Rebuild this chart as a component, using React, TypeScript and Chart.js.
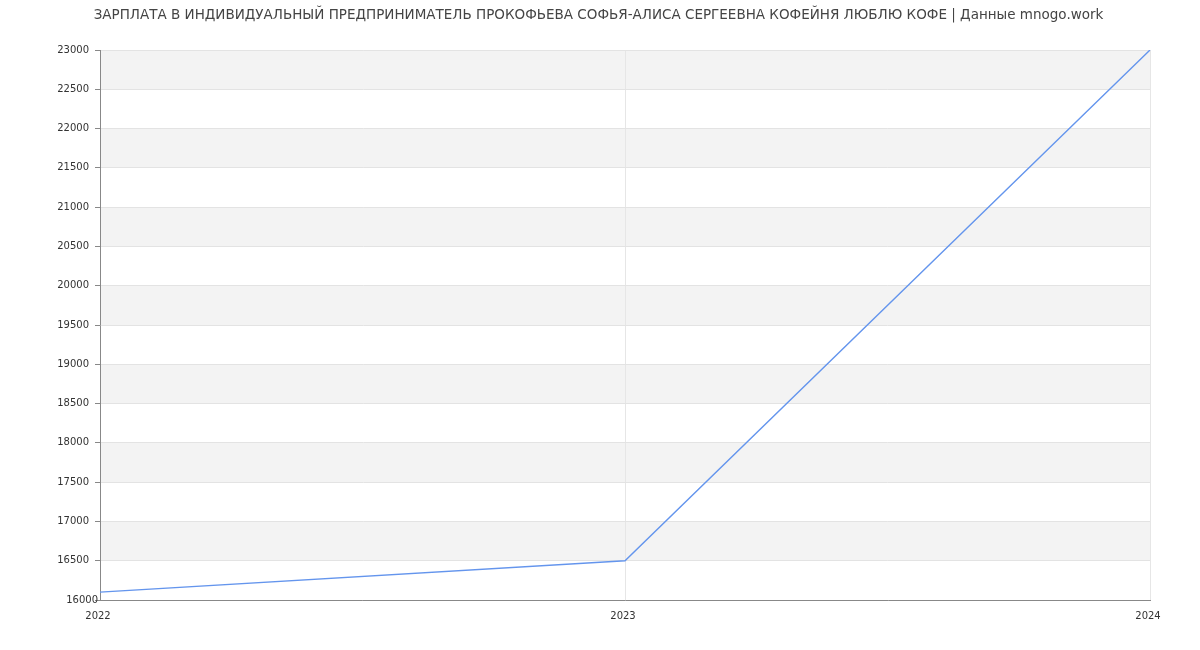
import React, { useEffect, useRef } from "react";
import { Chart, registerables } from "chart.js";

Chart.register(...registerables);

const TITLE = "ЗАРПЛАТА В ИНДИВИДУАЛЬНЫЙ ПРЕДПРИНИМАТЕЛЬ ПРОКОФЬЕВА СОФЬЯ-АЛИСА СЕРГЕЕВНА КОФЕЙНЯ ЛЮБЛЮ КОФЕ | Данные mnogo.work";
const years = ["2022", "2023", "2024"];
const salary = [16100, 16500, 23000];
const yMin = 16000;
const yMax = 23000;
const yStep = 500;

const FONT = "'DejaVu Sans', sans-serif";

const bandsPlugin = {
  id: "bands",
  beforeDraw(chart: any) {
    const { ctx, chartArea } = chart;
    const y = chart.scales.y;
    ctx.save();
    ctx.fillStyle = "#f3f3f3";
    let i = 0;
    for (let v = yMin; v < yMax; v += yStep, i++) {
      if (i % 2 === 1) {
        const top = y.getPixelForValue(v + yStep);
        const bot = y.getPixelForValue(v);
        ctx.fillRect(chartArea.left, top, chartArea.right - chartArea.left, bot - top);
      }
    }
    ctx.restore();
  },
};

const textPlugin = {
  id: "texts",
  afterDraw(chart: any) {
    const { ctx } = chart;
    const y = chart.scales.y;
    ctx.save();
    ctx.font = `13.5px ${FONT}`;
    ctx.fillStyle = "#444";
    ctx.textAlign = "center";
    ctx.textBaseline = "middle";
    ctx.fillText(TITLE, 598.5, 15.5);
    // bottom y label, drawn closer to the axis as in the reference
    ctx.font = `10px ${FONT}`;
    ctx.fillStyle = "#333";
    ctx.textAlign = "right";
    ctx.fillText(String(yMin), 98, y.getPixelForValue(yMin) + 0.5);
    ctx.restore();
  },
};

export default function App() {
  const ref = useRef<HTMLCanvasElement>(null);
  useEffect(() => {
    if (!ref.current) return;
    const chart = new Chart(ref.current, {
      type: "line",
      data: {
        labels: years,
        datasets: [
          {
            data: salary,
            borderColor: "#6495ED",
            borderWidth: 1.4,
            pointRadius: 0,
            tension: 0,
            fill: false,
          },
        ],
      },
      options: {
        animation: false,
        responsive: false,
        maintainAspectRatio: false,
        layout: { padding: { top: 50, right: 50, left: 0, bottom: 0 } },
        plugins: {
          legend: { display: false },
          title: { display: false },
          tooltip: { enabled: false },
        },
        scales: {
          x: {
            offset: false,
            grid: { color: "#e6e6e6", drawTicks: false },
            border: { color: "#888", width: 1 },
            ticks: { color: "#333", font: { family: FONT, size: 10 }, padding: 10, maxRotation: 0, labelOffset: -2 },
            afterFit(scale: any) {
              scale.height = 50;
            },
          },
          y: {
            min: yMin,
            max: yMax,
            grid: { color: "#e3e3e3", tickLength: 5, tickColor: "#888" },
            border: { color: "#888", width: 1 },
            ticks: {
              stepSize: yStep,
              color: "#333",
              font: { family: FONT, size: 10 },
              padding: 6,
              callback: (v: any) => (Number(v) === yMin ? "" : String(v)),
            },
            afterFit(scale: any) {
              scale.width = 100;
            },
          },
        },
      },
      plugins: [bandsPlugin, textPlugin],
    });
    return () => chart.destroy();
  }, []);
  return (
    <div style={{ position: "fixed", left: 0, top: 0, width: 1200, height: 650, background: "#fff" }}>
      <canvas ref={ref} width={1200} height={650} style={{ width: 1200, height: 650 }} />
    </div>
  );
}
